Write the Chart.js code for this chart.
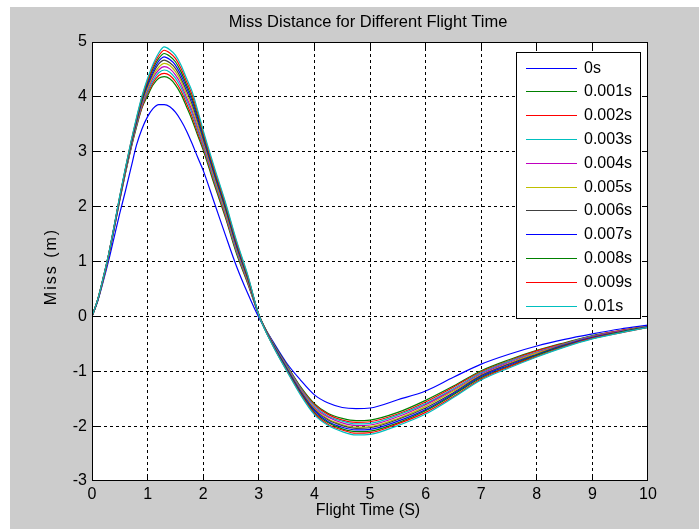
<!DOCTYPE html>
<html>
<head>
<meta charset="utf-8">
<script src="https://cdn.jsdelivr.net/npm/chart.js@4/dist/chart.umd.min.js"></script>
<style>
  html, body { margin: 0; padding: 0; background: #ffffff; width: 699px; height: 529px; overflow: hidden; }
  #fig { position: absolute; left: 10px; top: 7px; background: #cccccc; }
</style>
</head>
<body>
<canvas id="fig" width="689" height="522"></canvas>
<script>
// Text
const titleText = 'Miss Distance for Different Flight Time';
const xTitle = 'Flight Time (S)';
const yTitle = 'Miss (m)';

// Axis ticks
const xTickValues = [0, 1, 2, 3, 4, 5, 6, 7, 8, 9, 10];
const yTickValues = [-3, -2, -1, 0, 1, 2, 3, 4, 5];

// Sample times (s)
const flightTime = [0, 0.1, 0.2, 0.3, 0.4, 0.5, 0.6, 0.7, 0.8, 0.9, 1.0, 1.1, 1.2, 1.3, 1.4, 1.5, 1.6, 1.7, 1.8, 1.9, 2.0,
  2.2, 2.4, 2.6, 2.8, 3.0, 3.25, 3.5, 3.75, 4.0, 4.25, 4.5, 4.75, 5.0, 5.5, 6.0, 6.5, 7.0, 7.5, 8.0, 8.5, 9.0, 9.5, 10.0];

// Miss distance (m) for each delay
const miss0s = [0, 0.27, 0.63, 1.02, 1.45, 1.88, 2.28, 2.70, 3.12, 3.42, 3.64, 3.79, 3.86, 3.86, 3.82, 3.72, 3.57, 3.38, 3.15, 2.90, 2.66,
  2.07, 1.48, 0.91, 0.42, -0.02, -0.45, -0.85, -1.16, -1.43, -1.58, -1.66, -1.68, -1.67, -1.52, -1.36, -1.11, -0.87, -0.69, -0.54, -0.42, -0.32, -0.23, -0.16];
const miss001 = [0, 0.28, 0.66, 1.10, 1.60, 2.12, 2.60, 3.05, 3.45, 3.80, 4.02, 4.22, 4.34, 4.37, 4.33, 4.22, 4.05, 3.82, 3.58, 3.30, 3.03,
  2.40, 1.80, 1.14, 0.60, 0.03, -0.47, -0.88, -1.28, -1.59, -1.77, -1.86, -1.90, -1.89, -1.75, -1.53, -1.27, -0.99, -0.79, -0.62, -0.48, -0.35, -0.26, -0.18];
const miss002 = [0, 0.28, 0.66, 1.10, 1.61, 2.13, 2.61, 3.06, 3.47, 3.82, 4.06, 4.26, 4.39, 4.43, 4.39, 4.28, 4.11, 3.88, 3.64, 3.35, 3.07,
  2.44, 1.83, 1.17, 0.62, 0.03, -0.48, -0.89, -1.30, -1.61, -1.79, -1.89, -1.93, -1.92, -1.78, -1.56, -1.29, -1.01, -0.81, -0.63, -0.49, -0.36, -0.26, -0.18];
const miss003 = [0, 0.28, 0.67, 1.11, 1.61, 2.14, 2.62, 3.08, 3.49, 3.85, 4.09, 4.30, 4.44, 4.49, 4.45, 4.34, 4.17, 3.94, 3.70, 3.40, 3.11,
  2.47, 1.86, 1.19, 0.64, 0.03, -0.48, -0.90, -1.31, -1.63, -1.82, -1.91, -1.96, -1.95, -1.80, -1.59, -1.32, -1.03, -0.82, -0.65, -0.50, -0.36, -0.27, -0.18];
const miss004 = [0, 0.29, 0.67, 1.11, 1.62, 2.15, 2.63, 3.09, 3.51, 3.87, 4.13, 4.35, 4.49, 4.55, 4.51, 4.40, 4.23, 3.99, 3.75, 3.45, 3.15,
  2.51, 1.89, 1.22, 0.65, 0.03, -0.49, -0.92, -1.33, -1.66, -1.84, -1.94, -1.99, -1.98, -1.83, -1.61, -1.34, -1.05, -0.84, -0.66, -0.51, -0.37, -0.27, -0.19];
const miss005 = [0, 0.29, 0.68, 1.12, 1.63, 2.16, 2.64, 3.11, 3.53, 3.90, 4.16, 4.39, 4.54, 4.61, 4.57, 4.46, 4.29, 4.05, 3.81, 3.50, 3.19,
  2.54, 1.92, 1.25, 0.67, 0.03, -0.50, -0.93, -1.35, -1.68, -1.87, -1.97, -2.02, -2.01, -1.86, -1.64, -1.36, -1.07, -0.86, -0.67, -0.52, -0.38, -0.28, -0.19];
const miss006 = [0, 0.29, 0.68, 1.12, 1.63, 2.16, 2.66, 3.12, 3.54, 3.92, 4.20, 4.43, 4.60, 4.67, 4.62, 4.52, 4.34, 4.11, 3.87, 3.56, 3.23,
  2.58, 1.96, 1.27, 0.69, 0.03, -0.50, -0.94, -1.36, -1.70, -1.89, -1.99, -2.04, -2.03, -1.88, -1.67, -1.39, -1.08, -0.87, -0.69, -0.52, -0.38, -0.28, -0.19];
const miss007 = [0, 0.29, 0.69, 1.13, 1.64, 2.17, 2.67, 3.14, 3.56, 3.95, 4.23, 4.47, 4.65, 4.73, 4.68, 4.58, 4.40, 4.17, 3.93, 3.61, 3.27,
  2.61, 1.99, 1.30, 0.71, 0.03, -0.51, -0.95, -1.38, -1.72, -1.92, -2.02, -2.07, -2.06, -1.91, -1.70, -1.41, -1.10, -0.89, -0.70, -0.53, -0.39, -0.29, -0.19];
const miss008 = [0, 0.30, 0.69, 1.13, 1.65, 2.18, 2.68, 3.15, 3.58, 3.97, 4.27, 4.52, 4.70, 4.79, 4.74, 4.64, 4.46, 4.22, 3.98, 3.66, 3.31,
  2.65, 2.02, 1.33, 0.72, 0.03, -0.52, -0.97, -1.40, -1.75, -1.94, -2.05, -2.10, -2.09, -1.94, -1.72, -1.43, -1.12, -0.91, -0.71, -0.54, -0.40, -0.29, -0.20];
const miss009 = [0, 0.30, 0.70, 1.14, 1.65, 2.19, 2.69, 3.17, 3.60, 4.00, 4.30, 4.56, 4.75, 4.85, 4.80, 4.70, 4.52, 4.28, 4.04, 3.71, 3.35,
  2.68, 2.05, 1.35, 0.74, 0.03, -0.52, -0.98, -1.41, -1.77, -1.97, -2.07, -2.13, -2.12, -1.96, -1.75, -1.46, -1.14, -0.92, -0.73, -0.55, -0.40, -0.30, -0.20];
const miss010 = [0, 0.30, 0.70, 1.14, 1.66, 2.20, 2.70, 3.18, 3.62, 4.02, 4.34, 4.60, 4.80, 4.91, 4.86, 4.76, 4.58, 4.34, 4.10, 3.76, 3.39,
  2.72, 2.08, 1.38, 0.76, 0.03, -0.53, -0.99, -1.43, -1.79, -1.99, -2.10, -2.16, -2.15, -1.99, -1.78, -1.48, -1.16, -0.94, -0.74, -0.56, -0.41, -0.30, -0.20];

const seriesLabels = ['0s', '0.001s', '0.002s', '0.003s', '0.004s', '0.005s', '0.006s', '0.007s', '0.008s', '0.009s', '0.01s'];
const seriesValues = [miss0s, miss001, miss002, miss003, miss004, miss005, miss006, miss007, miss008, miss009, miss010];

// MATLAB-style line colour order
const lineColors = ['#0000ff', '#008000', '#ff0000', '#00bfbf', '#bf00bf', '#bfbf00', '#404040',
  '#0000ff', '#008000', '#ff0000', '#00bfbf'];

const FONT = '16px "Liberation Sans", Arial, Helvetica, sans-serif';
const TITLE_FONT = '16.5px "Liberation Sans", Arial, Helvetica, sans-serif';

const datasets = seriesValues.map((vals, i) => ({
  label: seriesLabels[i],
  data: flightTime.map((t, k) => ({ x: t, y: vals[k] })),
  borderColor: lineColors[i],
  backgroundColor: lineColors[i],
  borderWidth: 1.2,
  pointRadius: 0,
  fill: false,
  cubicInterpolationMode: 'monotone',
  order: seriesValues.length - 1 - i   // later series drawn on top
}));

// Axes box, dashed grid, inward ticks, labels and boxed legend
const figureDecor = {
  id: 'figureDecor',
  beforeDraw(chart) {
    const { ctx, chartArea: a } = chart;
    ctx.save();
    ctx.fillStyle = '#ffffff';
    ctx.fillRect(a.left, a.top, a.right - a.left, a.bottom - a.top);
    ctx.restore();
  },
  beforeDatasetsDraw(chart) {
    const { ctx, chartArea: a, scales: { x, y } } = chart;
    ctx.save();
    ctx.strokeStyle = '#000000';
    ctx.lineWidth = 1;
    ctx.setLineDash([3, 3]);
    xTickValues.slice(1, -1).forEach(v => {
      const px = Math.floor(x.getPixelForValue(v)) + 0.5;
      ctx.beginPath(); ctx.moveTo(px, a.top); ctx.lineTo(px, a.bottom); ctx.stroke();
    });
    yTickValues.slice(1, -1).forEach(v => {
      const py = Math.floor(y.getPixelForValue(v)) + 0.5;
      ctx.beginPath(); ctx.moveTo(a.left, py); ctx.lineTo(a.right, py); ctx.stroke();
    });
    ctx.restore();
  },
  afterDatasetsDraw(chart) {
    const { ctx, chartArea: a, scales: { x, y } } = chart;
    const tick = 6;
    ctx.save();
    ctx.strokeStyle = '#000000';
    ctx.lineWidth = 1;
    ctx.setLineDash([]);
    ctx.strokeRect(a.left + 0.5, a.top + 0.5, a.right - a.left - 1, a.bottom - a.top - 1);
    ctx.beginPath();
    xTickValues.slice(1, -1).forEach(v => {
      const px = Math.floor(x.getPixelForValue(v)) + 0.5;
      ctx.moveTo(px, a.bottom); ctx.lineTo(px, a.bottom - tick);
      ctx.moveTo(px, a.top); ctx.lineTo(px, a.top + tick);
    });
    yTickValues.slice(1, -1).forEach(v => {
      const py = Math.floor(y.getPixelForValue(v)) + 0.5;
      ctx.moveTo(a.left, py); ctx.lineTo(a.left + tick, py);
      ctx.moveTo(a.right, py); ctx.lineTo(a.right - tick, py);
    });
    ctx.stroke();

    // tick labels
    ctx.fillStyle = '#000000';
    ctx.font = FONT;
    ctx.textAlign = 'center';
    ctx.textBaseline = 'middle';
    xTickValues.forEach(v => ctx.fillText(String(v), x.getPixelForValue(v), a.bottom + 14));
    ctx.textAlign = 'right';
    yTickValues.forEach(v => ctx.fillText(String(v), a.left - 5, y.getPixelForValue(v)));

    // titles
    const cx = (a.left + a.right) / 2;
    const cy = (a.top + a.bottom) / 2;
    ctx.textAlign = 'center';
    ctx.font = TITLE_FONT;
    ctx.fillText(titleText, cx - 2, 15);
    ctx.font = FONT;
    ctx.fillText(xTitle, cx - 2, a.bottom + 30);
    ctx.save();
    ctx.translate(a.left - 40, cy + 6);
    ctx.rotate(-Math.PI / 2);
    ctx.letterSpacing = '2px';
    ctx.fillText(yTitle, 1, 0);
    ctx.restore();

    // legend box
    const lgRight = a.right - 8, lgLeft = lgRight - 124, lgTop = a.top + 10, step = 23.8;
    const n = chart.data.datasets.length;
    const lgBottom = lgTop + step * n + 4;
    ctx.fillStyle = '#ffffff';
    ctx.fillRect(lgLeft, lgTop, lgRight - lgLeft, lgBottom - lgTop);
    ctx.strokeRect(Math.floor(lgLeft) + 0.5, Math.floor(lgTop) + 0.5, Math.round(lgRight - lgLeft), Math.round(lgBottom - lgTop));
    ctx.textAlign = 'left';
    chart.data.datasets.forEach((ds, i) => {
      const ly = Math.round(lgTop + 15.5 + i * step) + 0.5;
      ctx.strokeStyle = ds.borderColor;
      ctx.beginPath();
      ctx.moveTo(lgLeft + 10, ly); ctx.lineTo(lgLeft + 61, ly);
      ctx.stroke();
      ctx.fillStyle = '#000000';
      ctx.fillText(ds.label, lgLeft + 68, ly + 0.5);
    });
    ctx.restore();
  }
};

new Chart(document.getElementById('fig'), {
  type: 'line',
  data: { datasets },
  options: {
    responsive: false,
    animation: false,
    devicePixelRatio: 1,
    events: [],
    layout: { padding: { left: 82, right: 51, top: 35, bottom: 48 } },
    scales: {
      x: { type: 'linear', min: 0, max: 10, display: false },
      y: { type: 'linear', min: -3, max: 5, display: false }
    },
    plugins: {
      legend: { display: false },
      title: { display: false },
      tooltip: { enabled: false }
    }
  },
  plugins: [figureDecor]
});
</script>
</body>
</html>
